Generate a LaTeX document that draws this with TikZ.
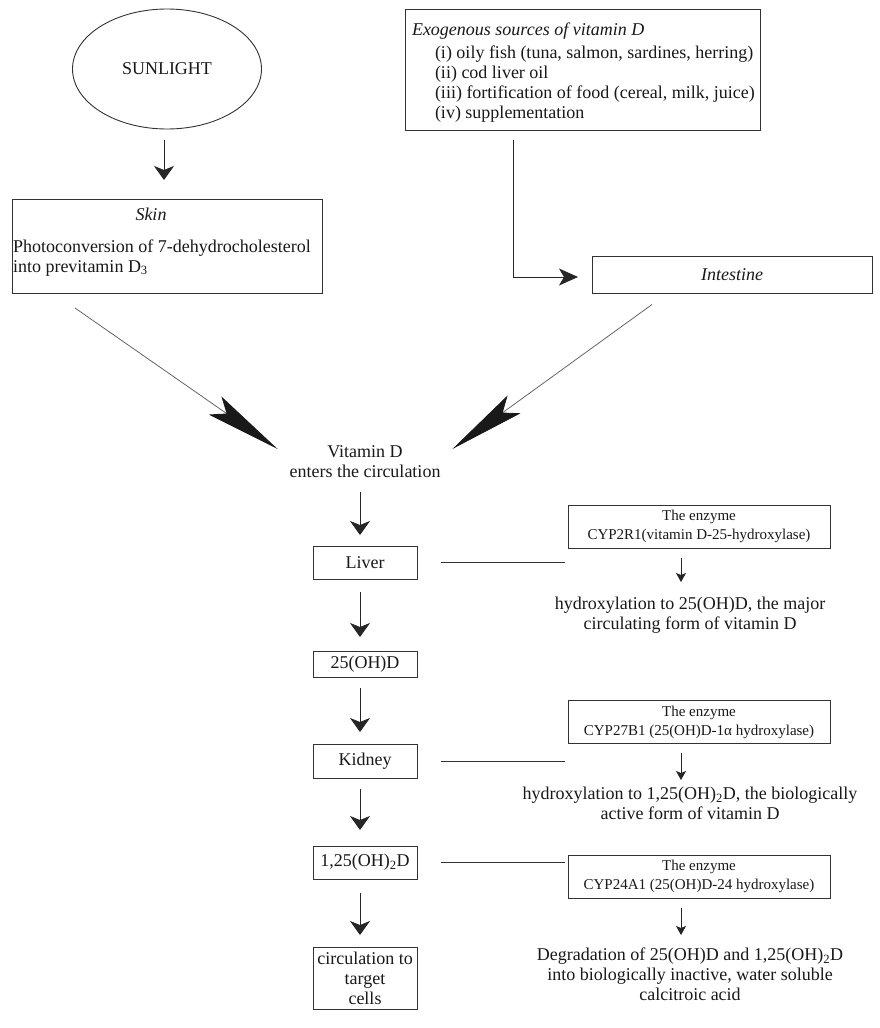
\documentclass[tikz,border=0pt]{standalone}
\usepackage{fontspec}
\setmainfont{Liberation Serif}
\usetikzlibrary{arrows.meta,shapes.geometric}
\begin{document}
\begin{tikzpicture}[x=1pt,y=-1pt,
  every node/.style={inner sep=0pt, outer sep=0pt, text=black!90},
  mainf/.style={font=\fontsize{18}{20}\selectfont},
  itf/.style={font=\fontsize{18}{20}\selectfont\itshape},
  smallf/.style={font=\fontsize{15}{19}\selectfont},
  box/.style={draw=black!80, line width=1pt},
  lbox/.style={box, mainf, minimum width=104pt, align=center},
  ebox/.style={box, smallf, minimum width=262pt, minimum height=43pt, align=center},
  arr/.style={draw=black!85, line width=0.9pt, -{Stealth[length=14pt,width=20pt,inset=4pt]}},
  arrb/.style={draw=black!85, line width=0.9pt, -{Stealth[length=19pt,width=17pt,inset=5pt]}},
  sarr/.style={draw=black!85, line width=0.8pt, -{Stealth[length=9pt,width=10pt,inset=2pt]}},
  dart/.style={draw=black!60, line width=0.8pt, -{Stealth[length=76pt,width=22pt,inset=14pt,color=black!90]}},
  link/.style={draw=black!80, line width=0.9pt},
]
\useasboundingbox[fill=white] (0,0) rectangle (880,1028);

% top left
\node[ellipse, draw=black!80, line width=0.9pt, minimum width=189pt, minimum height=120pt, mainf] (sun) at (167,69) {SUNLIGHT};
\node[box, minimum width=310pt, minimum height=94pt] (skin) at (167,246) {};
\node[itf, anchor=base] (skinttl) at (151,220) {Skin};
\node[mainf, anchor=base west] (skinl1) at (13,252) {Photoconversion of 7-dehydrocholesterol};
\node[mainf, anchor=base west] (skinl2) at (13,272) {into previtamin D\textsubscript{3}};
\draw[arr] ([shift={(-3,11)}]sun.south) -- ([shift={(-3,-19)}]skin.north);

% top right
\node[box, minimum width=355pt, minimum height=121pt] (exo) at (582.5,69.5) {};
\node[itf, anchor=base west] (exoh) at (412,35) {Exogenous sources of vitamin D};
\node[mainf, anchor=base west] (exo1) at (435,58) {(i) oily fish (tuna, salmon, sardines, herring)};
\node[mainf, anchor=base west] (exo2) at (435,78) {(ii) cod liver oil};
\node[mainf, anchor=base west] (exo3) at (435,98) {(iii) fortification of food (cereal, milk, juice)};
\node[mainf, anchor=base west] (exo4) at (435,118) {(iv) supplementation};
\node[box, itf, minimum width=280pt, minimum height=37pt] (intest) at (732,275) {Intestine};
\draw[arrb] ([shift={(108,10)}]exo.south west) |- ([shift={(-14,2)}]intest.west);

% vitamin D
\node[mainf, align=center] (vitd) at (365,462) {Vitamin D\\enters the circulation};
\draw[dart] ([shift={(63,15)}]skin.south west) -- ([shift={(-12,3)}]vitd.north west);
\draw[dart] ([shift={(60,11)}]intest.south west) -- ([shift={(12,3)}]vitd.north east);

% left column
\node[lbox, minimum height=33pt] (liver) at (365,562.5) {Liver};
\node[lbox, minimum height=26pt] (ohd) at (365,664) {25(OH)D};
\node[lbox, minimum height=34pt] (kidney) at (365,761) {Kidney};
\node[lbox, minimum height=33pt] (dd) at (365,862.5) {1,25(OH)\textsubscript{2}D};
\node[lbox, minimum height=62pt] (circ) at (365,978) {circulation to\\target\\cells};

\draw[arr] ([shift={(-5,14)}]vitd.south) -- ([shift={(-5,-11)}]liver.north);
\draw[arr] ([shift={(-5,13)}]liver.south) -- ([shift={(-5,-14)}]ohd.north);
\draw[arr] ([shift={(-5,11)}]ohd.south) -- ([shift={(-5,-12)}]kidney.north);
\draw[arr] ([shift={(-5,11)}]kidney.south) -- ([shift={(-5,-16)}]dd.north);
\draw[arr] ([shift={(-5,14)}]dd.south) -- ([shift={(-5,-12)}]circ.north);

% enzymes
\node[ebox] (e1) at (699,526.5) {The enzyme\\CYP2R1(vitamin D-25-hydroxylase)};
\node[ebox] (e2) at (699,722) {The enzyme\\CYP27B1 (25(OH)D-1α hydroxylase)};
\node[ebox] (e3) at (699,876.5) {The enzyme\\CYP24A1 (25(OH)D-24 hydroxylase)};

\node[mainf, align=center, anchor=north] (r1) at (690,597) {hydroxylation to 25(OH)D, the major\\circulating form of vitamin D};
\node[mainf, align=center, anchor=north] (r2) at (690,787) {hydroxylation to 1,25(OH)\textsubscript{2}D, the biologically\\active form of vitamin D};
\node[mainf, align=center, anchor=north] (r3) at (690,948) {Degradation of 25(OH)D and 1,25(OH)\textsubscript{2}D\\into biologically inactive, water soluble\\calcitroic acid};

\draw[sarr] ([shift={(-18,10)}]e1.south) -- ([shift={(-9,-15)}]r1.north);
\draw[sarr] ([shift={(-18,9)}]e2.south) -- ([shift={(-9,-7)}]r2.north);
\draw[sarr] ([shift={(-18,10)}]e3.south) -- ([shift={(-9,-13)}]r3.north);

\coordinate (c1) at (e1.west |- liver.east);
\coordinate (c2) at (e2.west |- kidney.east);
\coordinate (c3) at (e3.west |- dd.east);
\draw[link] ([shift={(24,0)}]liver.east) -- ([shift={(-3,0)}]c1);
\draw[link] ([shift={(24,0)}]kidney.east) -- ([shift={(-3,0)}]c2);
\draw[link] ([shift={(24,0)}]dd.east) -- ([shift={(-3,0)}]c3);
\end{tikzpicture}
\end{document}
